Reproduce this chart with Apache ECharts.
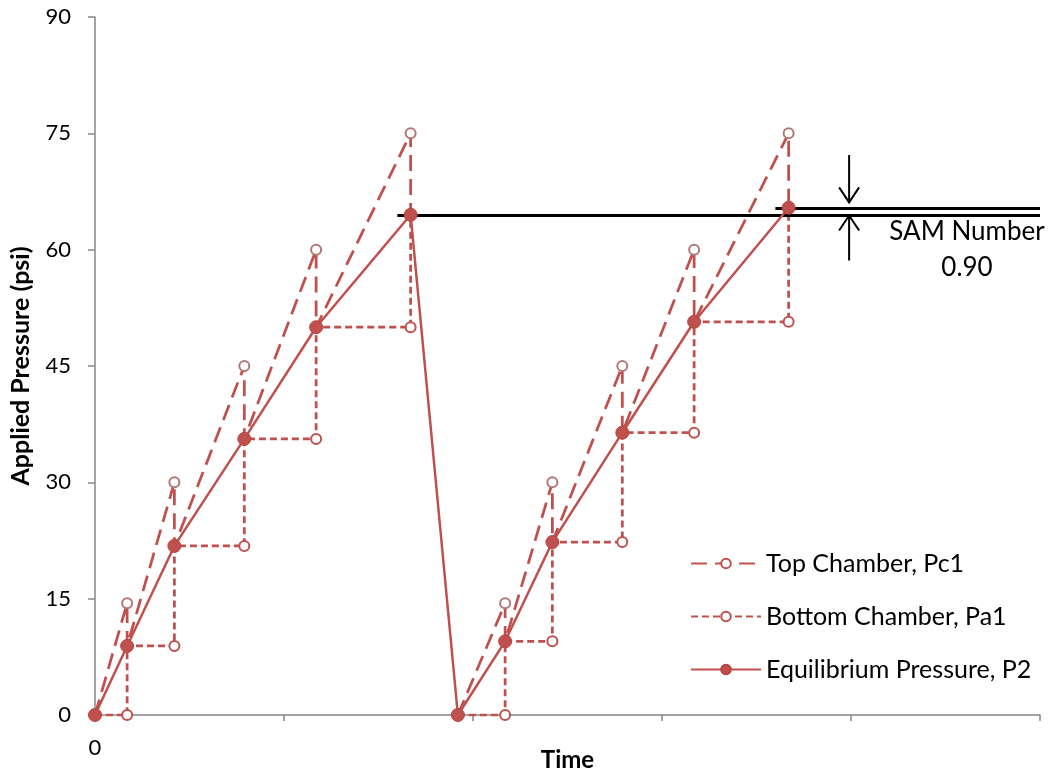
<!DOCTYPE html>
<html>
<head>
<meta charset="utf-8">
<title>Applied Pressure vs Time</title>
<script src="https://cdn.jsdelivr.net/npm/echarts@6/dist/echarts.min.js"></script>
<style>
  html, body { margin: 0; padding: 0; background: #fff; overflow: hidden; }
  #chart { width: 1055px; height: 775px; }
</style>
</head>
<body>
<div id="chart"></div>
<script>
// Step times for two loading cycles (first cycle: indices 0-5, second: 6-11)
const times = [0, 1.7, 4.2, 7.9, 11.7, 16.7, 19.2, 21.7, 24.2, 27.9, 31.7, 36.7];
// Equilibrium pressure P2 at each step (psi)
const equilibrium = [0, 8.9, 21.8, 35.6, 50.0, 64.5, 0, 9.5, 22.3, 36.4, 50.7, 65.4];
// Top chamber pressure Pc1 reached at each step before equalising (psi)
const topPeaks = [14.4, 30, 45, 60, 75, 14.4, 30, 45, 60, 75];
// First and last index of each cycle
const cycles = [[0, 5], [6, 11]];
// Y axis ticks
const yTicks = { min: 0, max: 90, interval: 15 };
// X axis extent
const xTicks = { min: 0, max: 50, interval: 10 };
// SAM annotation
const samLabel = ['SAM Number', '0.90'];
const samLineStarts = [16.0, 36.0];   // x where each reference line begins
const samArrowX = 39.9;
const samArrowDown = [72.2, 66.1];    // from, to (psi)
const samArrowUp = [58.6, 64.4];      // from, to (psi)

const RED = '#C0504D';
const PEAK_RING = '#B27878';
const FONT = 'Lato';

function buildTop() {
  const out = [];
  let k = 0;
  cycles.forEach(([s, e], ci) => {
    out.push({ value: [times[s], equilibrium[s]], symbol: 'none' });
    for (let i = s + 1; i <= e; i++) {
      out.push({ value: [times[i], topPeaks[k++]], itemStyle: { color: PEAK_RING } });
      out.push({ value: [times[i], equilibrium[i]], symbol: 'none' });
    }
    if (ci < cycles.length - 1) out.push({ value: [times[e], '-'], symbol: 'none' });
  });
  return out;
}

function buildBottom() {
  const out = [];
  cycles.forEach(([s, e], ci) => {
    out.push({ value: [times[s], equilibrium[s]], symbol: 'none' });
    for (let i = s + 1; i <= e; i++) {
      out.push({ value: [times[i], equilibrium[i - 1]] });
      out.push({ value: [times[i], equilibrium[i]], symbol: 'none' });
    }
    if (ci < cycles.length - 1) out.push({ value: [times[e], '-'], symbol: 'none' });
  });
  return out;
}

const eqData = times.map((t, i) => [t, equilibrium[i]]);
const samPeaks = cycles.map(([, e]) => equilibrium[e]);

const chart = echarts.init(document.getElementById('chart'), null, {
  renderer: 'canvas', width: 1055, height: 775
});

const axisGrey = '#868686';

chart.setOption({
  animation: false,
  backgroundColor: '#fff',
  grid: { left: 95, right: 15, top: 17, bottom: 60, containLabel: false, outerBoundsMode: 'none' },
  xAxis: {
    type: 'value',
    min: xTicks.min, max: xTicks.max, interval: xTicks.interval,
    name: 'Time',
    nameLocation: 'middle',
    nameGap: 33,
    nameMoveOverlap: false,
    nameTextStyle: { fontFamily: FONT, fontWeight: 'bold', fontSize: 24, color: '#000' },
    axisLine: { show: true, onZero: false, lineStyle: { color: axisGrey, width: 1.5 } },
    axisTick: { show: true, length: 6, lineStyle: { color: axisGrey, width: 1.5 } },
    splitLine: { show: false },
    axisLabel: {
      margin: 22, fontFamily: FONT, fontSize: 22, color: '#000',
      formatter: v => (v === 0 ? '0' : '')
    }
  },
  yAxis: {
    type: 'value',
    min: yTicks.min, max: yTicks.max, interval: yTicks.interval,
    name: 'Applied Pressure (psi)',
    nameLocation: 'middle',
    nameGap: 62,
    nameTextStyle: { fontFamily: FONT, fontWeight: 'bold', fontSize: 25, color: '#000' },
    axisLine: { show: true, lineStyle: { color: axisGrey, width: 1.5 } },
    axisTick: { show: true, length: 7, lineStyle: { color: axisGrey, width: 1.5 } },
    splitLine: { show: false },
    axisLabel: { margin: 24, fontFamily: FONT, fontSize: 22, color: '#000' }
  },
  legend: {
    orient: 'vertical',
    left: 685,
    top: 546,
    itemWidth: 70,
    itemHeight: 12,
    itemGap: 28,
    textStyle: { fontFamily: FONT, fontSize: 25, color: '#000' },
    data: ['Top Chamber, Pc1', 'Bottom Chamber, Pa1', 'Equilibrium Pressure, P2']
  },
  series: [
    {
      name: 'Top Chamber, Pc1',
      type: 'line',
      data: buildTop(),
      connectNulls: false,
      symbol: 'emptyCircle',
      symbolSize: 10,
      showAllSymbol: true,
      z: 2,
      lineStyle: { color: RED, width: 2.75, type: [16, 8] },
      itemStyle: { color: RED, borderWidth: 2 }
    },
    {
      name: 'Bottom Chamber, Pa1',
      type: 'line',
      data: buildBottom(),
      connectNulls: false,
      symbol: 'emptyCircle',
      symbolSize: 10,
      showAllSymbol: true,
      z: 3,
      lineStyle: { color: RED, width: 2.75, type: [7, 4] },
      itemStyle: { color: RED, borderWidth: 2 }
    },
    {
      name: 'Equilibrium Pressure, P2',
      type: 'line',
      data: eqData,
      symbol: 'circle',
      symbolSize: 13,
      showAllSymbol: true,
      z: 5,
      lineStyle: { color: RED, width: 2.5 },
      itemStyle: { color: RED, borderColor: '#B54541', borderWidth: 1 },
      markLine: {
        silent: true,
        symbol: ['none', 'none'],
        label: { show: false },
        lineStyle: { color: '#000', width: 3, type: 'solid' },
        data: samPeaks.map((v, i) => [
          { coord: [samLineStarts[i], v] },
          { coord: [xTicks.max, v] }
        ])
      }
    }
  ]
});

// Arrows and SAM label placed through the chart's own scales
function arrow(x, from, to) {
  const a = chart.convertToPixel({ gridIndex: 0 }, [x, from]);
  const b = chart.convertToPixel({ gridIndex: 0 }, [x, to]);
  const dir = b[1] > a[1] ? 1 : -1;
  const style = { stroke: '#000', lineWidth: 2, fill: null };
  return [
    { type: 'line', shape: { x1: a[0], y1: a[1], x2: b[0], y2: b[1] }, style, z: 20 },
    {
      type: 'polyline',
      shape: { points: [[b[0] - 10, b[1] - dir * 15], [b[0], b[1]], [b[0] + 10, b[1] - dir * 15]] },
      style, z: 20
    }
  ];
}

chart.setOption({
  graphic: [
    ...arrow(samArrowX, samArrowDown[0], samArrowDown[1]),
    ...arrow(samArrowX, samArrowUp[0], samArrowUp[1]),
    {
      type: 'text', x: 967, y: 232, z: 20,
      style: { text: samLabel[0], fontFamily: FONT, fontSize: 26, fill: '#000', align: 'center', verticalAlign: 'middle' }
    },
    {
      type: 'text', x: 967, y: 268, z: 20,
      style: { text: samLabel[1], fontFamily: FONT, fontSize: 26, fill: '#000', align: 'center', verticalAlign: 'middle' }
    }
  ]
});
</script>
</body>
</html>
